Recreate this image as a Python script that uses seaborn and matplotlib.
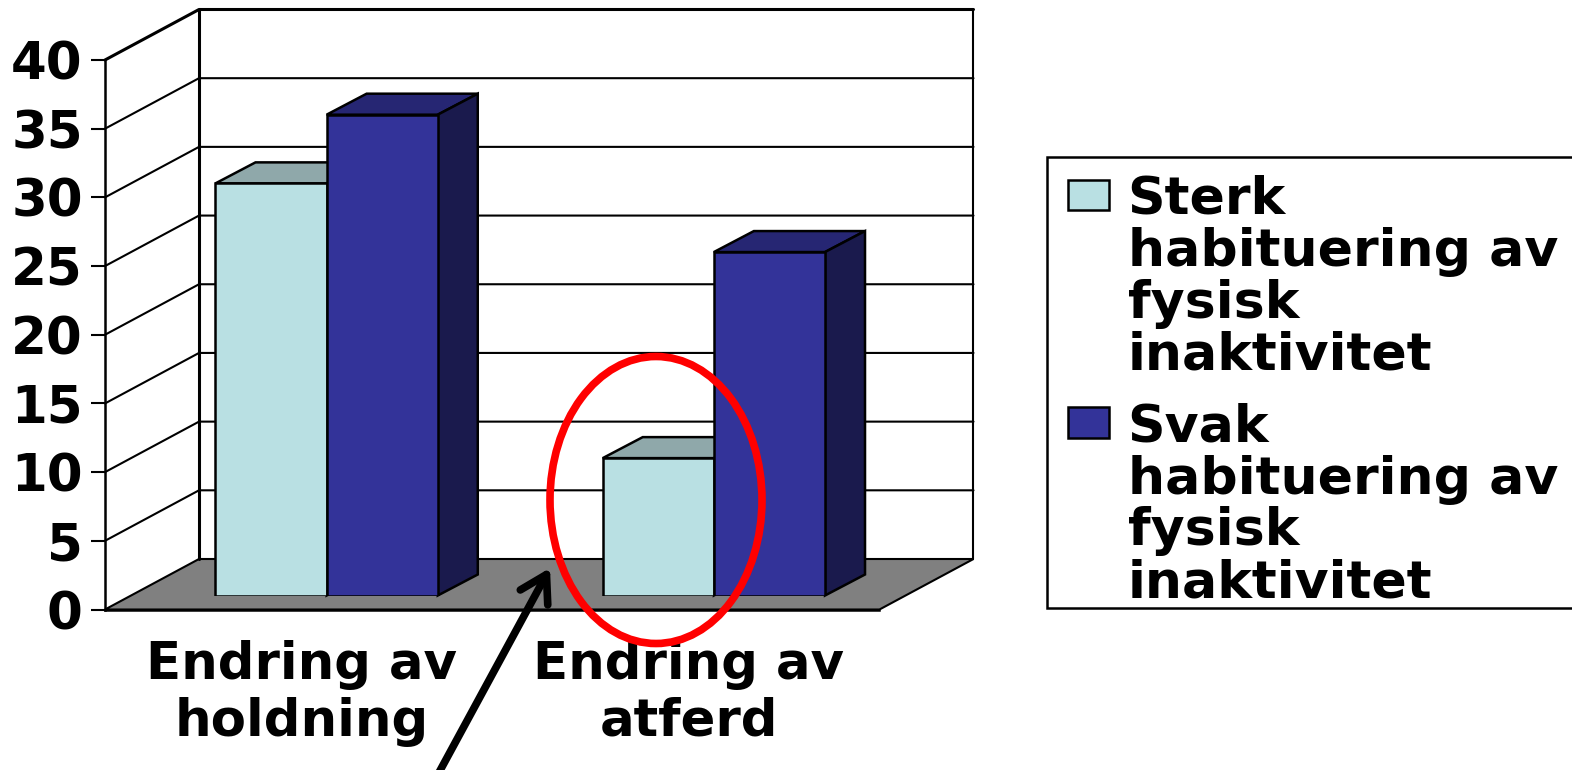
import matplotlib
matplotlib.use("Agg")
import matplotlib.pyplot as plt
from matplotlib.patches import Ellipse, Patch, Polygon, Rectangle
from matplotlib.transforms import IdentityTransform, ScaledTranslation
import pandas as pd
import seaborn as sns

W, H = 1572, 770

categories = ["Endring av\nholdning", "Endring av\natferd"]
series_names = ["Sterk\nhabituering av\nfysisk\ninaktivitet", "Svak\nhabituering av\nfysisk\ninaktivitet"]
sterk = [30, 10]
svak = [35, 25]
y_ticks = [0, 5, 10, 15, 20, 25, 30, 35, 40]

front_colors = ["#B9E0E3", "#333399"]
top_colors = ["#8FA8AA", "#262673"]
side_colors = ["#6F8688", "#1A1A4D"]
FONT = {"family": "DejaVu Sans", "weight": "bold", "size": 37, "color": "black"}

# geometry of the fake 3D box, in pixels
LEFT, RIGHT, Y0, Y40 = 105, 879.5, 609.5, 60
WALL_DX, WALL_DY = 94, 50.5
BAR_DX, BAR_DY = 40, 21
BAR_SHIFT_X, BAR_SHIFT_Y = 28, 14


def poly(ax, pts, **kw):
    ax.add_patch(Polygon(pts, closed=True, transform=IdentityTransform(), clip_on=False, **kw))


def pix_line(ax, xs, ys, **kw):
    ax.plot(xs, ys, transform=IdentityTransform(), clip_on=False, color="black", **kw)


df = pd.DataFrame({
    "kategori": categories * 2,
    "verdi": sterk + svak,
    "gruppe": [series_names[0]] * 2 + [series_names[1]] * 2,
})

sns.set_style("white")
plt.rcParams["font.family"] = "DejaVu Sans"
fig = plt.figure(figsize=(W / 100, H / 100), dpi=100)

box = [LEFT / W, 1 - Y0 / H, (RIGHT - LEFT) / W, (Y0 - Y40) / H]
ax = fig.add_axes(box)
bar_ax = fig.add_axes([box[0] + BAR_SHIFT_X / W, box[1] + BAR_SHIFT_Y / H, box[2], box[3]])
bar_ax.patch.set_alpha(0)

sns.barplot(data=df, x="kategori", y="verdi", hue="gruppe", hue_order=series_names,
            palette=front_colors, saturation=1, width=0.574, gap=0, edgecolor="black",
            linewidth=1.8, legend=False, ax=bar_ax)

for a in (ax, bar_ax):
    a.set_xlim(-0.5, 1.5)
    a.set_ylim(0, 40)
bar_ax.axis("off")

# wall and floor
ax.set_xticks([0, 1])
ax.set_xticklabels(categories, **FONT, linespacing=1.17)
ax.set_xticks([-0.5, 0.5, 1.5], minor=True)
ax.set_yticks(y_ticks)
ax.set_yticklabels(y_ticks, **FONT, va="center_baseline")
ax.tick_params(axis="x", which="major", length=0, pad=22, color="black")
ax.tick_params(axis="x", which="minor", length=8, width=1.5, color="black")
ax.tick_params(axis="y", length=10, width=1.5, pad=6, left=True, color="black")
ax.set_xlabel("")
ax.set_ylabel("")
for side, sp in ax.spines.items():
    sp.set_visible(side in ("left", "bottom"))
    sp.set_color("black")
    sp.set_linewidth(1.8)
for t in ax.get_xticklabels():
    t.set_transform(t.get_transform() + ScaledTranslation(2 / 72, 0, fig.dpi_scale_trans))

fig.canvas.draw()
x0, x1 = ax.transData.transform([(-0.5, 0), (1.5, 0)])[:, 0]
y_base = ax.transData.transform((0, 0))[1]
poly(ax, [(x0, y_base), (x1, y_base), (x1 + WALL_DX, y_base + WALL_DY), (x0 + WALL_DX, y_base + WALL_DY)],
     facecolor="#808080", edgecolor="black", linewidth=1.5, zorder=1)
for v in y_ticks[1:]:
    y = ax.transData.transform((0, v))[1]
    lw = 2.2 if v == y_ticks[-1] else 1.5
    pix_line(ax, [x0, x0 + WALL_DX, x1 + WALL_DX], [y, y + WALL_DY, y + WALL_DY], lw=lw, zorder=1)
y_top = ax.transData.transform((0, y_ticks[-1]))[1] + WALL_DY
pix_line(ax, [x0 + WALL_DX] * 2, [y_base + WALL_DY, y_top], lw=2.2, zorder=1)
pix_line(ax, [x1 + WALL_DX] * 2, [y_base + WALL_DY, y_top], lw=1.5, zorder=1)

# depth of the bars, built from the bars seaborn drew
for i, cont in enumerate(bar_ax.containers):
    for bar in cont:
        bar.set_zorder(3)
        (bx0, by0), (bx1, by1) = bar_ax.transData.transform(
            [(bar.get_x(), 0), (bar.get_x() + bar.get_width(), bar.get_height())])
        poly(bar_ax, [(bx0, by1), (bx1, by1), (bx1 + BAR_DX, by1 + BAR_DY), (bx0 + BAR_DX, by1 + BAR_DY)],
             facecolor=top_colors[i], edgecolor="black", linewidth=1.8, zorder=2)
        poly(bar_ax, [(bx1, by0), (bx1 + BAR_DX, by0 + BAR_DY), (bx1 + BAR_DX, by1 + BAR_DY), (bx1, by1)],
             facecolor=side_colors[i], edgecolor="black", linewidth=1.8, zorder=2)

# legend frame runs off the right edge, so it is drawn on its own
fig.add_artist(Rectangle((1047, H - 608), 560, 451, transform=IdentityTransform(),
                         facecolor="white", edgecolor="black", linewidth=1.8, zorder=1))
handles = [Patch(facecolor=c, edgecolor="black", linewidth=1.8) for c in front_colors]
leg = fig.legend(handles, series_names, loc="upper left", bbox_to_anchor=(1047 / W, 1 - 154 / H),
                 borderaxespad=0, prop={"family": "DejaVu Sans", "weight": "bold", "size": 37.5},
                 labelcolor="black", frameon=False,
                 handlelength=0.79, handleheight=0.52, handletextpad=0.36,
                 borderpad=0.4, labelspacing=0.42)
leg.set_zorder(2)
for t in leg.get_texts():
    t.set_linespacing(1.05)
# handles sit beside the first line of each entry
for h in leg.legend_handles:
    h.set_y(h.get_y() + 60.5)

# annotations on top of the chart
bar_ax.add_patch(Ellipse((656, H - 500), 212, 287, transform=IdentityTransform(), fill=False,
                         edgecolor="#FF0000", linewidth=5.5, clip_on=False, zorder=6))
bar_ax.annotate("", xy=(550, H - 568), xytext=(436, H - 778),
                xycoords="figure pixels", textcoords="figure pixels", annotation_clip=False,
                arrowprops=dict(arrowstyle="->,head_length=0.75,head_width=0.45", color="black",
                                lw=5.5, mutation_scale=25, shrinkA=0, shrinkB=0), zorder=7)

fig.savefig("out.png", dpi=100)
